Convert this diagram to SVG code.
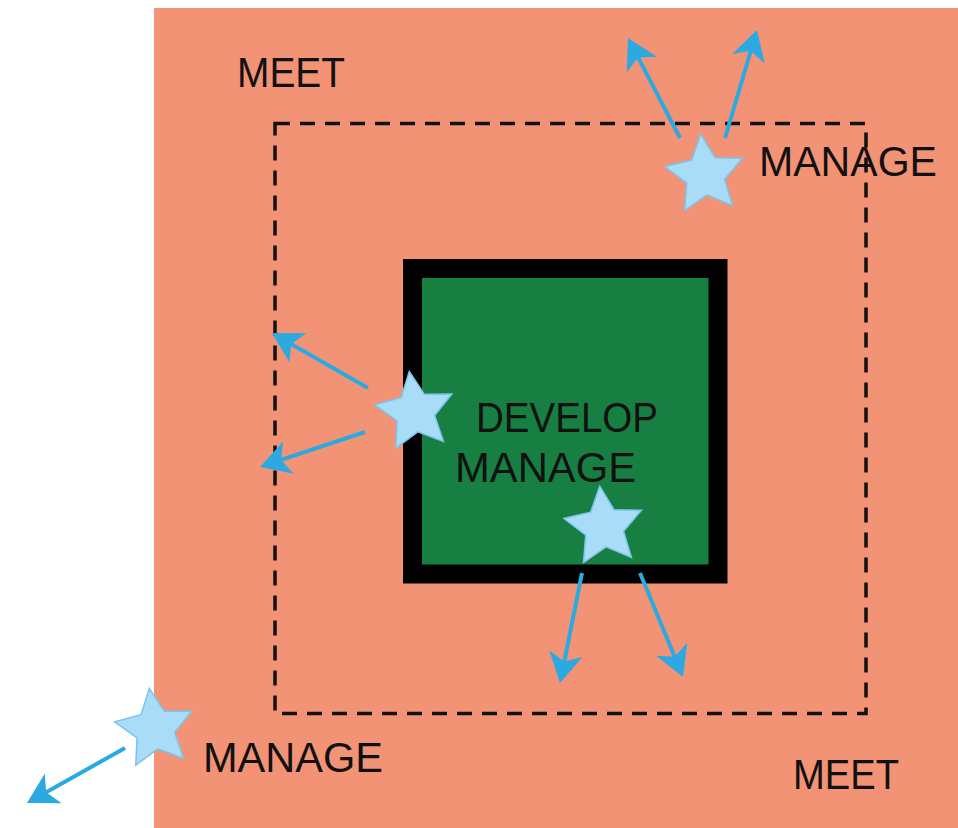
<svg xmlns="http://www.w3.org/2000/svg" xmlns:xlink="http://www.w3.org/1999/xlink" width="958" height="828" viewBox="0 0 958 828">
<style>
.lbl{font-family:"Liberation Sans","Open Sans",sans-serif;font-size:43px;fill:#111;}
.arrow{stroke:#2DA9E1;stroke-width:4;fill:none;marker-end:url(#head);}
.star{fill:#A9DCF6;stroke:#7CC4EC;stroke-width:1.5;stroke-linejoin:miter;}
</style>
<defs>
<marker id="head" viewBox="0 -17 30 34" refX="10" refY="0" markerWidth="30" markerHeight="34" markerUnits="userSpaceOnUse" orient="auto">
<path d="M30,0 L0,-17 L8,0 L0,17 Z" fill="#2DA9E1"/>
</marker>
<path id="star" d="M0,-41 L11.76,-16.18 L39,-12.67 L19.02,6.18 L24.1,33.17 L0,20 L-24.1,33.17 L-19.02,6.18 L-39,-12.67 L-11.76,-16.18 Z"/>
</defs>
<rect width="958" height="828" fill="#FFFFFF"/>
<g id="outer-region">
<rect x="154" y="8" width="804" height="820" fill="#F39375"/>
</g>
<g id="boundary">
<rect x="275" y="123.5" width="591" height="590" fill="none" stroke="#111" stroke-width="3.5" stroke-dasharray="15 10"/>
</g>
<g id="core">
<rect x="412.5" y="268.5" width="305.5" height="305.5" fill="#177F41" stroke="#000" stroke-width="19"/>
</g>
<g id="labels">
<text class="lbl" x="237" y="87" textLength="108" lengthAdjust="spacingAndGlyphs">MEET</text>
<text class="lbl" x="759" y="176" textLength="178" lengthAdjust="spacingAndGlyphs">MANAGE</text>
<text class="lbl" x="476" y="432" textLength="182" lengthAdjust="spacingAndGlyphs">DEVELOP</text>
<text class="lbl" x="455" y="482" textLength="181" lengthAdjust="spacingAndGlyphs">MANAGE</text>
<text class="lbl" x="203" y="772" textLength="180" lengthAdjust="spacingAndGlyphs">MANAGE</text>
<text class="lbl" x="793" y="789" textLength="106" lengthAdjust="spacingAndGlyphs">MEET</text>
</g>
<g id="connectors">
<line class="arrow" x1="680" y1="138" x2="637.2" y2="55.7"/>
<line class="arrow" x1="725" y1="138" x2="751.3" y2="49.2"/>
<line class="arrow" x1="368" y1="388" x2="289.4" y2="342.9"/>
<line class="arrow" x1="365" y1="432" x2="279" y2="460.7"/>
<line class="arrow" x1="582" y1="573" x2="563.9" y2="663.4"/>
<line class="arrow" x1="640" y1="573" x2="675.4" y2="658.5"/>
<line class="arrow" x1="125" y1="748" x2="44.4" y2="793.2"/>
</g>
<g id="star-top-right"><use class="star" href="#star" xlink:href="#star" transform="translate(705 175) rotate(-6)"/></g>
<g id="star-left"><use class="star" href="#star" xlink:href="#star" transform="translate(415 412) rotate(-8)"/></g>
<g id="star-center"><use class="star" href="#star" xlink:href="#star" transform="translate(604 527) rotate(-6)"/></g>
<g id="star-bottom-left"><use class="star" href="#star" xlink:href="#star" transform="translate(155 729) rotate(-8)"/></g>
</svg>
